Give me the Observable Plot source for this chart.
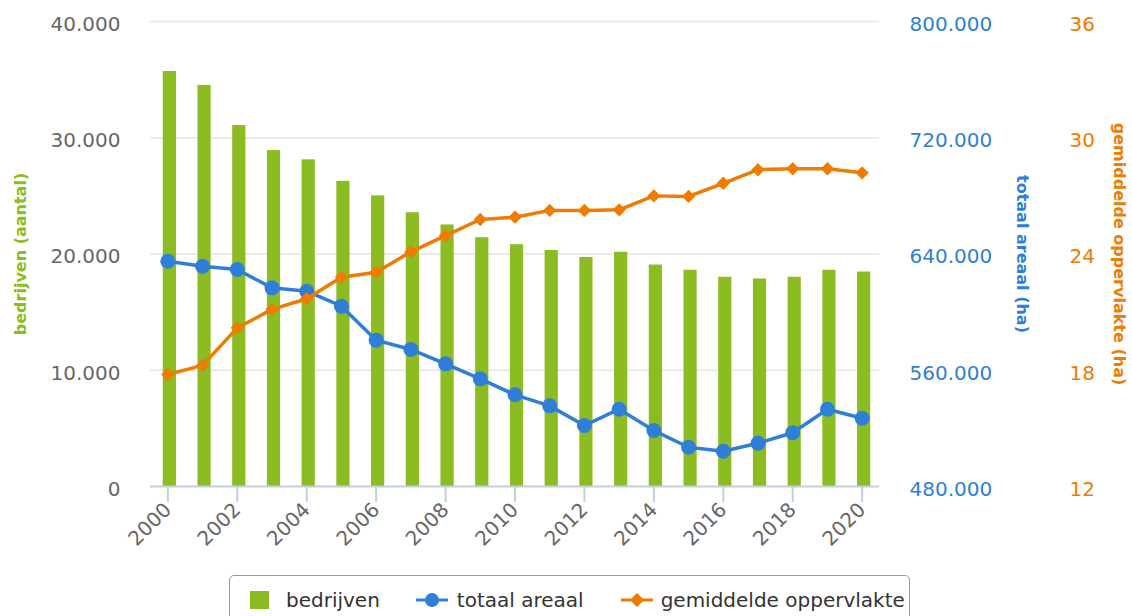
<!DOCTYPE html>
<html>
<head>
<meta charset="utf-8">
<script src="https://cdn.jsdelivr.net/npm/d3@7"></script>
<script src="https://cdn.jsdelivr.net/npm/@observablehq/plot@0.6"></script>
<style>
  html, body { margin: 0; padding: 0; background: #fff; }
  body { width: 1132px; height: 616px; overflow: hidden; position: relative; font-family: "DejaVu Sans", sans-serif; }
  #legend {
    position: absolute; left: 229px; top: 575px; width: 681px; height: 60px;
    border: 1px solid #999; border-radius: 5px; box-sizing: border-box;
    display: flex; align-items: flex-start; padding-left: 20px; padding-top: 13px;
    font-size: 20px; color: #333;
  }
  #legend .item { display: flex; align-items: center; height: 22px; white-space: nowrap; }
  #legend svg { display: block; }
</style>
</head>
<body>
<div id="chart"></div>
<div id="legend">
  <div class="item" style="margin-right:36px"><svg width="19" height="18" style="margin-right:17px"><rect width="19" height="18" fill="#8bbc21"/></svg>bedrijven</div>
  <div class="item" style="margin-right:37px"><svg width="32" height="18" style="margin-right:9px"><line x1="0" x2="32" y1="9" y2="9" stroke="#2f7ed8" stroke-width="3"/><circle cx="16" cy="9" r="7" fill="#2f7ed8"/></svg>totaal areaal</div>
  <div class="item"><svg width="32" height="18" style="margin-right:8px"><line x1="0" x2="32" y1="9" y2="9" stroke="#ef7b00" stroke-width="3"/><path d="M16,2L23,9L16,16L9,9Z" fill="#ef7b00"/></svg>gemiddelde oppervlakte</div>
</div>
<script>
const years = ["2000","2001","2002","2003","2004","2005","2006","2007","2008","2009","2010",
               "2011","2012","2013","2014","2015","2016","2017","2018","2019","2020"];
const bedrijven = [35700, 34500, 31050, 28900, 28100, 26250, 25000, 23550, 22500, 21400, 20800,
                   20300, 19700, 20150, 19050, 18600, 18000, 17850, 18000, 18600, 18450];
const totaalAreaal = [635000, 631600, 629300, 616700, 614400, 604100, 580700, 574300, 564400, 554100, 543100,
                      535500, 522000, 533200, 518500, 507000, 504300, 509800, 517000, 533200, 527000];
const gemiddeldeOppervlakte = [17.78, 18.25, 20.19, 21.14, 21.69, 22.80, 23.06, 24.11, 24.95, 25.78, 25.90,
                               26.25, 26.25, 26.28, 27.00, 26.97, 27.65, 28.35, 28.40, 28.40, 28.19];
const xTickLabels = ["2000","2002","2004","2006","2008","2010","2012","2014","2016","2018","2020"];
const bedrijvenTicks = [0, 10000, 20000, 30000, 40000];
const areaalTicks = [480000, 560000, 640000, 720000, 800000];
const oppTicks = [12, 18, 24, 30, 36];

const GREEN = "#8bbc21", BLUE = "#2f7ed8", ORANGE = "#ef7b00";

// secondary axes are mapped onto the primary (bedrijven) scale
const areaalDomain = [480000, 800000];
const oppDomain = [12, 36];
const yMax = 40000;
const fromAreaal = v => (v - areaalDomain[0]) / (areaalDomain[1] - areaalDomain[0]) * yMax;
const toAreaal = y => y / yMax * (areaalDomain[1] - areaalDomain[0]) + areaalDomain[0];
const fromOpp = v => (v - oppDomain[0]) / (oppDomain[1] - oppDomain[0]) * yMax;
const toOpp = y => y / yMax * (oppDomain[1] - oppDomain[0]) + oppDomain[0];

const nl = d3.formatLocale({decimal: ",", thousands: ".", grouping: [3], currency: ["€", ""]});
const fmt = nl.format(",.0f");

const data = years.map((year, i) => ({
  year,
  bedrijven: bedrijven[i],
  areaal: totaalAreaal[i],
  opp: gemiddeldeOppervlakte[i]
}));

const chart = Plot.plot({
  width: 1132,
  height: 560,
  marginLeft: 150,
  marginRight: 253,
  marginTop: 21,
  marginBottom: 74,
  style: {fontFamily: "DejaVu Sans, sans-serif", background: "#fff"},
  x: {type: "band", domain: years, paddingInner: 0.62, paddingOuter: 0.31, align: 0.5, round: false, label: null},
  y: {domain: [0, yMax], label: null},
  marks: [
    Plot.gridY(bedrijvenTicks.slice(1), {stroke: "#e6e6e6", strokeOpacity: 1, strokeWidth: 1.5}),
    Plot.barY(data, {x: "year", y: "bedrijven", fill: GREEN, dx: 2}),
    Plot.ruleY([0], {stroke: "#c0d0e0", strokeWidth: 2}),
    Plot.axisX(xTickLabels, {tickSize: 16, tickPadding: 4, tickRotate: -45, fontSize: 20,
      stroke: "#c0d0e0", strokeWidth: 2, strokeOpacity: 1, fill: "#666", label: null}),
    Plot.axisY(bedrijvenTicks, {anchor: "left", tickSize: 0, tickPadding: 30, fontSize: 20,
      fill: "#666", dy: 3, tickFormat: fmt, label: null}),
    Plot.axisY(areaalTicks.map(fromAreaal), {anchor: "right", tickSize: 0, tickPadding: 30, fontSize: 20,
      fill: BLUE, dy: 3, tickFormat: d => fmt(toAreaal(d)), label: null}),
    Plot.axisY(oppTicks.map(fromOpp), {anchor: "right", tickSize: 0, tickPadding: 190, fontSize: 20,
      fill: ORANGE, dy: 3, tickFormat: d => fmt(toOpp(d)), label: null}),
    Plot.text(["bedrijven (aantal)"], {frameAnchor: "left", dx: -130, rotate: -90, text: d => d,
      textAnchor: "middle", fill: GREEN, fontWeight: "bold", fontSize: 16}),
    Plot.text(["totaal areaal (ha)"], {frameAnchor: "right", dx: 143, rotate: 90, text: d => d,
      textAnchor: "middle", fill: BLUE, fontWeight: "bold", fontSize: 16}),
    Plot.text(["gemiddelde oppervlakte (ha)"], {frameAnchor: "right", dx: 240, rotate: 90, text: d => d,
      textAnchor: "middle", fill: ORANGE, fontWeight: "bold", fontSize: 16}),
    Plot.line(data, {x: "year", y: d => fromAreaal(d.areaal), stroke: BLUE, strokeWidth: 3.5}),
    Plot.dot(data, {x: "year", y: d => fromAreaal(d.areaal), fill: BLUE, r: 7.5, stroke: "none"}),
    Plot.line(data, {x: "year", y: d => fromOpp(d.opp), stroke: ORANGE, strokeWidth: 3.5}),
    Plot.dot(data, {x: "year", y: d => fromOpp(d.opp), fill: ORANGE, symbol: "diamond2", r: 6, stroke: "none"})
  ]
});
document.getElementById("chart").appendChild(chart);
</script>
</body>
</html>
